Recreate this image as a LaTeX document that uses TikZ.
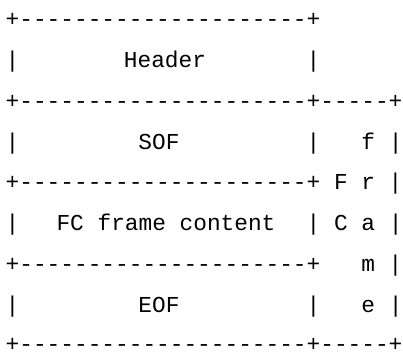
\documentclass[tikz,border=0pt]{standalone}
\usepackage{fontspec}
\setmonofont{Liberation Mono}
\newcommand{\ascfont}{\ttfamily\fontsize{22.8}{22.8}\selectfont}
\begin{document}
\begin{tikzpicture}[x=1pt,y=1pt,
  asc/.style={font=\ascfont, inner sep=0pt, anchor=base west, text=black},
  lbl/.style={font=\ascfont, inner sep=0pt, anchor=base, text=black}]
\useasboundingbox[fill=white] (0,0) rectangle (403,-355);
\def\bx{5.5}
% row baselines: centre 19 + 40.75k, baseline 6.9 below centre
\node[asc] (r0) at (\bx,-26.9)  {+---------------------+};
\node[asc] (r1) at (\bx,-67.65) {|~~~~~~~~~~~~~~~~~~~~~|};
\node[asc] (r2) at (\bx,-108.4) {+---------------------+-----+};
\node[asc] (r3) at (\bx,-149.15){|~~~~~~~~~~~~~~~~~~~~~|~~~f~|};
\node[asc] (r4) at (\bx,-189.9) {+---------------------+~F~r~|};
\node[asc] (r5) at (\bx,-230.65){|~~~~~~~~~~~~~~~~~~~~~|~C~a~|};
\node[asc] (r6) at (\bx,-271.4) {+---------------------+~~~m~|};
\node[asc] (r7) at (\bx,-312.15){|~~~~~~~~~~~~~~~~~~~~~|~~~e~|};
\node[asc] (r8) at (\bx,-351.9) {+---------------------+-----+};
\node[lbl] (header) at (165,-67.65)  {Header};
\node[lbl] (sof)    at (159,-149.15) {SOF};
\node[lbl] (fc)     at (166,-230.65) {FC frame content};
\node[lbl] (eof)    at (159,-312.15) {EOF};
\end{tikzpicture}
\end{document}
